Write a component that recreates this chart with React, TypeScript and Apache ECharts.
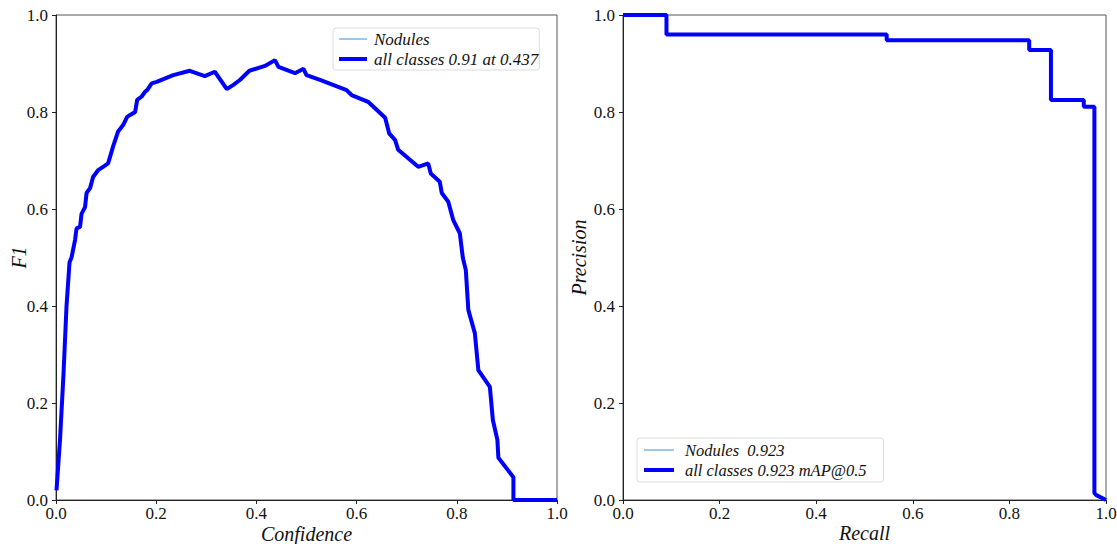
import React, { useEffect, useRef } from "react";
import * as echarts from "echarts";

// F1 vs confidence curve (all classes)
const f1Confidence = [0.001, 0.008, 0.015, 0.021, 0.027, 0.031, 0.038, 0.041, 0.048, 0.051, 0.058, 0.061, 0.068, 0.074, 0.084, 0.094, 0.104, 0.108, 0.114, 0.124, 0.134, 0.142, 0.148, 0.158, 0.162, 0.171, 0.178, 0.182, 0.191, 0.201, 0.234, 0.267, 0.297, 0.317, 0.341, 0.354, 0.367, 0.386, 0.417, 0.437, 0.444, 0.477, 0.494, 0.5, 0.527, 0.58, 0.59, 0.623, 0.657, 0.665, 0.677, 0.683, 0.723, 0.743, 0.748, 0.766, 0.77, 0.783, 0.793, 0.806, 0.812, 0.818, 0.823, 0.836, 0.843, 0.866, 0.872, 0.881, 0.883, 0.913, 0.913, 1.0];
const f1Values = [0.02, 0.124, 0.26, 0.4, 0.49, 0.5, 0.536, 0.56, 0.563, 0.59, 0.604, 0.633, 0.643, 0.666, 0.68, 0.687, 0.694, 0.708, 0.729, 0.76, 0.773, 0.79, 0.794, 0.8, 0.825, 0.832, 0.842, 0.845, 0.859, 0.862, 0.876, 0.885, 0.874, 0.883, 0.847, 0.856, 0.866, 0.885, 0.895, 0.907, 0.893, 0.88, 0.889, 0.876, 0.866, 0.845, 0.835, 0.821, 0.788, 0.756, 0.742, 0.722, 0.687, 0.694, 0.673, 0.656, 0.633, 0.615, 0.577, 0.55, 0.5, 0.474, 0.392, 0.344, 0.268, 0.233, 0.165, 0.124, 0.087, 0.047, 0.0, 0.0];

// Precision-recall curve vertices
const prRecall = [0.0, 0.09, 0.09, 0.546, 0.546, 0.841, 0.841, 0.886, 0.886, 0.954, 0.954, 0.976, 0.976, 0.98, 1.0];
const prPrecision = [1.0, 1.0, 0.96, 0.96, 0.948, 0.948, 0.928, 0.928, 0.825, 0.825, 0.811, 0.811, 0.014, 0.01, 0.0];

const legendF1 = ["Nodules", "all classes 0.91 at 0.437"];
const legendPR = ["Nodules  0.923", "all classes 0.923 mAP@0.5"];

const SERIF = "'Liberation Serif', 'Times New Roman', serif";
const CLASS_COLOR = "#5aa3e2";
const ALL_COLOR = "#0000ff";
const THIN = 1.2;
const THICK = 4;

function pairs(xs: number[], ys: number[]) {
  return xs.map((x, i) => [x, ys[i]]);
}

function legendItems(names: string[]) {
  return [
    { name: names[0], itemStyle: { opacity: 0 }, lineStyle: { width: THIN, color: CLASS_COLOR } },
    { name: names[1], itemStyle: { opacity: 0 }, lineStyle: { width: THICK, color: ALL_COLOR } },
  ];
}

export default function App() {
  const ref = useRef<HTMLDivElement>(null);

  useEffect(() => {
    if (!ref.current) return;
    const chart = echarts.init(ref.current, undefined, { renderer: "svg" });

    const labelStyle = {
      color: "#111",
      fontFamily: SERIF,
      fontSize: 17,
      lineHeight: 15,
      formatter: (v: number) => v.toFixed(1),
    };
    const nameStyle = {
      fontFamily: SERIF,
      fontStyle: "italic" as const,
      fontSize: 20,
      lineHeight: 17,
      color: "#111",
    };
    const axisCommon = {
      type: "value" as const,
      min: 0,
      max: 1,
      interval: 0.2,
      nameLocation: "middle" as const,
      nameMoveOverlap: false,
      axisLine: { show: true, onZero: false, lineStyle: { color: "#222", width: 1 } },
      axisTick: { show: true, inside: false, length: 4, lineStyle: { color: "#222" } },
      splitLine: { show: false },
      nameTextStyle: nameStyle,
    };

    const legendText = (pad: number, size: number) => ({
      fontFamily: SERIF,
      fontStyle: "italic" as const,
      fontSize: size,
      lineHeight: 18,
      color: "#111",
      padding: [0, 0, 0, pad],
    });
    const legendCommon = {
      orient: "vertical" as const,
      itemHeight: 12,
      itemGap: 2,
      borderColor: "#dcdcdc",
      borderWidth: 1,
      borderRadius: 3,
    };

    const f1Data = pairs(f1Confidence, f1Values);
    const prData = pairs(prRecall, prPrecision);

    const gridCommon = {
      top: 15,
      bottom: 44,
      show: true,
      borderColor: "#555",
      borderWidth: 1,
      backgroundColor: "transparent",
      outerBoundsMode: "none",
      containLabel: false,
    };

    chart.setOption({
      animation: false,
      backgroundColor: "#fff",
      grid: [
        { ...gridCommon, left: 56, right: 560 },
        { ...gridCommon, left: 623, right: 11 },
      ],
      xAxis: [
        { ...axisCommon, gridIndex: 0, name: "Confidence", nameGap: 25, axisLabel: { ...labelStyle, margin: 6 } },
        { ...axisCommon, gridIndex: 1, name: "Recall", nameGap: 24, axisLabel: { ...labelStyle, margin: 6 } },
      ],
      yAxis: [
        { ...axisCommon, gridIndex: 0, name: "F1", nameGap: 29, axisLabel: { ...labelStyle, margin: 8 } },
        { ...axisCommon, gridIndex: 1, name: "Precision", nameGap: 36, axisLabel: { ...labelStyle, margin: 8 } },
      ],
      legend: [
        { ...legendCommon, data: legendItems(legendF1), left: 333, top: 28, itemWidth: 28, padding: [2, 1, 2, 4], textStyle: legendText(2, 17) },
        { ...legendCommon, data: legendItems(legendPR), left: 637, top: 438, itemWidth: 30, padding: [3, 17, 3, 5], textStyle: legendText(6, 16.5) },
      ],
      series: [
        {
          name: legendF1[0], type: "line", xAxisIndex: 0, yAxisIndex: 0, data: f1Data,
          symbol: "none", lineStyle: { color: CLASS_COLOR, width: THIN }, itemStyle: { color: CLASS_COLOR },
        },
        {
          name: legendF1[1], type: "line", xAxisIndex: 0, yAxisIndex: 0, data: f1Data,
          symbol: "none", lineStyle: { color: ALL_COLOR, width: THICK }, itemStyle: { color: ALL_COLOR },
        },
        {
          name: legendPR[0], type: "line", xAxisIndex: 1, yAxisIndex: 1, data: prData,
          symbol: "none", lineStyle: { color: CLASS_COLOR, width: THIN }, itemStyle: { color: CLASS_COLOR },
        },
        {
          name: legendPR[1], type: "line", xAxisIndex: 1, yAxisIndex: 1, data: prData,
          symbol: "none", lineStyle: { color: ALL_COLOR, width: THICK }, itemStyle: { color: ALL_COLOR },
        },
      ],
    });

    return () => chart.dispose();
  }, []);

  return (
    <div
      ref={ref}
      style={{ position: "fixed", left: 0, top: 0, width: 1117, height: 544, background: "#fff" }}
    />
  );
}
